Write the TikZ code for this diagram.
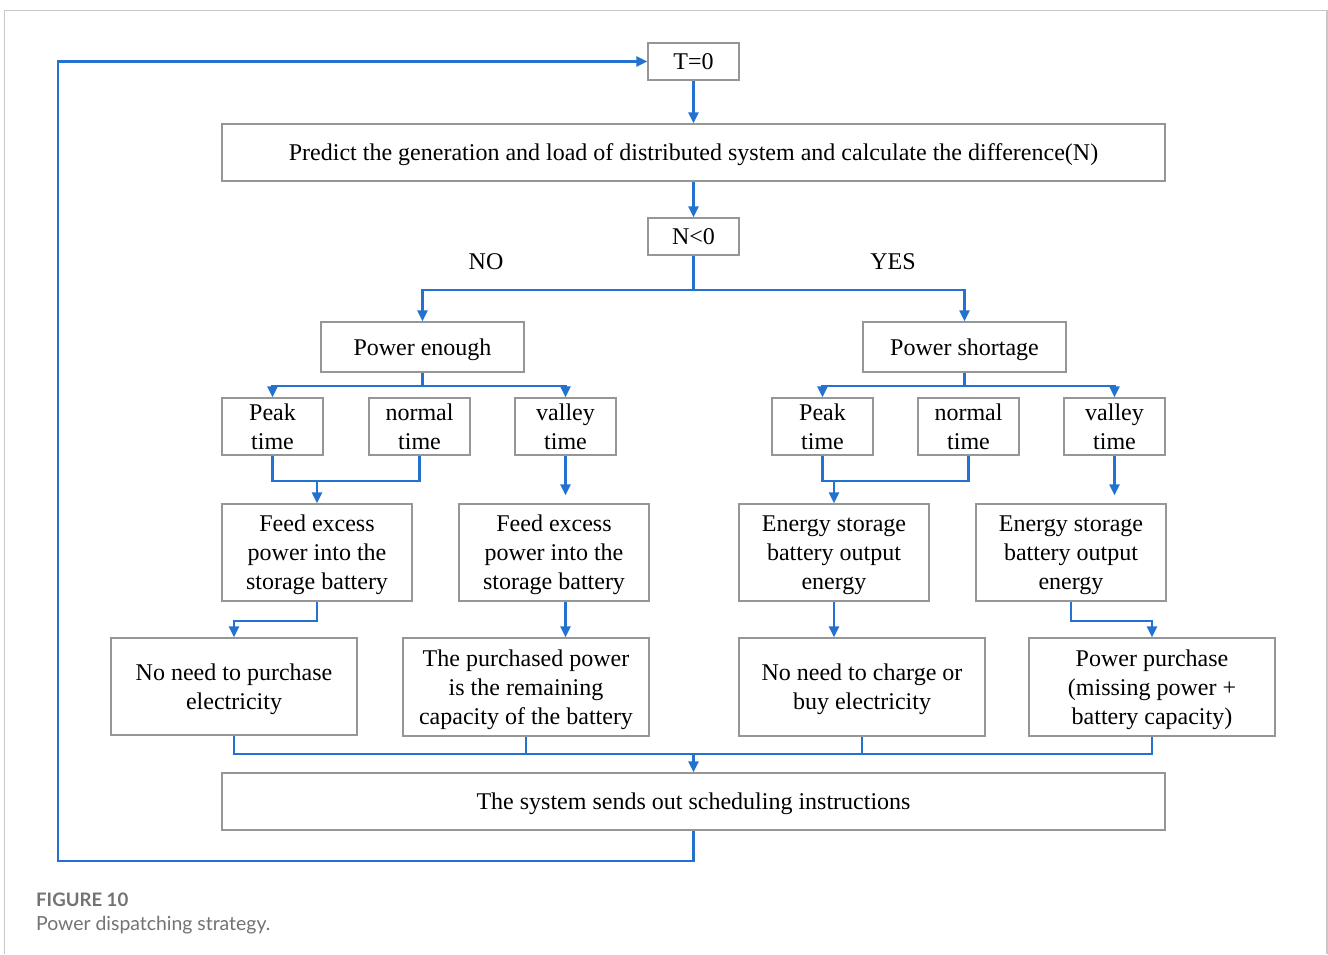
\documentclass[tikz,border=0pt]{standalone}
\usepackage{fontspec}
\setmainfont{Liberation Serif}
\newfontfamily\capfont{Lato}
\usetikzlibrary{arrows.meta}
\definecolor{flowblue}{RGB}{36,114,208}
\definecolor{boxgray}{RGB}{150,150,150}
\definecolor{framegray}{RGB}{200,200,200}
\definecolor{captiongray}{RGB}{115,115,115}
\tikzset{
  box/.style={draw=boxgray, line width=1.3pt, inner sep=0pt, align=center,
    text depth=0pt, font=\fontsize{24}{29}\selectfont, text=black},
  lbl/.style={inner sep=0pt, font=\fontsize{24}{29}\selectfont},
  link/.style={draw=flowblue, line width=2.2pt},
  arr/.style={link, -{Triangle[length=11pt,width=10pt]}}
}
\begin{document}
\begin{tikzpicture}[x=1pt,y=-1pt]
\useasboundingbox (0,0) rectangle (1328,954);
\fill[white] (0,0) rectangle (1328,954);
% outer panel frame
\draw[framegray, line width=1.5pt] (4.5,954) -- (4.5,10.5) -- (1327,10.5) -- (1327,954);

% top of the loop
\node[box, minimum width=91pt, minimum height=37pt] (t0) at (693.5,61.5) {T=0};
\node[box, minimum width=943pt, minimum height=57pt] (pred) at (693.5,152.5)
  {Predict the generation and load of distributed system and calculate the difference(N)};
\node[box, minimum width=91pt, minimum height=37pt] (n0) at (693.5,236.5) {N<0};
\node[lbl] (no) at (486,262) {NO};
\node[lbl] (yes) at (893,262) {YES};

% second level
\node[box, minimum width=203pt, minimum height=50pt] (enough) at (422.5,347) {Power enough};
\node[box, minimum width=203pt, minimum height=50pt] (short) at (964.5,347) {Power shortage};

% time periods
\node[box, minimum width=101pt, minimum height=57pt] (pk1) at (272.5,426.5) {Peak\\time};
\node[box, minimum width=101pt, minimum height=57pt] (nm1) at (419.5,426.5) {normal\\time};
\node[box, minimum width=101pt, minimum height=57pt] (vl1) at (565.5,426.5) {valley\\time};
\node[box, minimum width=101pt, minimum height=57pt] (pk2) at (822.5,426.5) {Peak\\time};
\node[box, minimum width=101pt, minimum height=57pt] (nm2) at (968.5,426.5) {normal\\time};
\node[box, minimum width=101pt, minimum height=57pt] (vl2) at (1114.5,426.5) {valley\\time};

% storage actions
\node[box, minimum width=190pt, minimum height=97pt] (feed1) at (317,552.5) {Feed excess\\power into the\\storage battery};
\node[box, minimum width=190pt, minimum height=97pt] (feed2) at (554,552.5) {Feed excess\\power into the\\storage battery};
\node[box, minimum width=190pt, minimum height=97pt] (es1) at (834,552.5) {Energy storage\\battery output\\energy};
\node[box, minimum width=190pt, minimum height=97pt] (es2) at (1071,552.5) {Energy storage\\battery output\\energy};

% purchase decisions
\node[box, minimum width=246pt, minimum height=97pt] (nop) at (234,686.5) {No need to purchase\\electricity};
\node[box, minimum width=246pt, minimum height=98pt] (purch) at (526,687) {The purchased power\\is the remaining\\capacity of the battery};
\node[box, minimum width=246pt, minimum height=98pt] (nochg) at (862,687) {No need to charge or\\buy electricity};
\node[box, minimum width=246pt, minimum height=98pt] (pp) at (1152,687) {Power purchase\\(missing power +\\battery capacity)};

% final step
\node[box, minimum width=943pt, minimum height=57pt] (sys) at (693.5,801.5) {The system sends out scheduling instructions};

% connectors
\draw[arr] (t0.south) -- (pred.north);
\draw[arr] (pred.south) -- (n0.north);
\draw[link] (n0.south) -- ++(0,34) coordinate (nb);
\draw[arr] (nb) -| (enough.north);
\draw[arr] (nb) -| (short.north);

\draw[link] (enough.south) -- ++(0,13) coordinate (eb);
\draw[arr] (eb) -| (pk1.north);
\draw[arr] (eb) -| (vl1.north);
\draw[link] (short.south) -- ++(0,13) coordinate (sb);
\draw[arr] (sb) -| (pk2.north);
\draw[arr] (sb) -| (vl2.north);

\draw[link] (pk1.south) -- ++(0,25) -| (nm1.south);
\draw[arr] ([yshift=23pt]feed1.north) -- (feed1.north);
\draw[arr, shorten >=8pt] (vl1.south) -- (vl1.south |- feed1.north);
\draw[link] (pk2.south) -- ++(0,25) -| (nm2.south);
\draw[arr] ([yshift=23pt]es1.north) -- (es1.north);
\draw[arr, shorten >=8pt] (vl2.south) -- (vl2.south |- es2.north);

\draw[arr] (feed1.south) -- ++(0,19) -| (nop.north);
\draw[arr] (vl1.south |- feed2.south) -- (vl1.south |- purch.north);
\draw[arr] (es1.south) -- (es1.south |- nochg.north);
\draw[arr] (es2.south) -- ++(0,19) -| (pp.north);

\coordinate (bus) at (693.5,754);
\draw[link] (nop.south) |- (bus) -| (pp.south);
\draw[link] (purch.south) -- (purch.south |- bus);
\draw[link] (nochg.south) -- (nochg.south |- bus);
\draw[arr] (bus) -- (sys.north);

\coordinate (loopL) at (58,861);
\draw[arr] (sys.south) |- (loopL) |- (t0.west);

% caption
\node[anchor=west, inner sep=0pt, text=captiongray, font=\capfont\bfseries\fontsize{18.6}{22}\selectfont] (capnum) at (36,900) {FIGURE 10};
\node[anchor=west, inner sep=0pt, text=captiongray, font=\capfont\fontsize{19.4}{23}\selectfont] (captxt) at (36,925) {Power dispatching strategy.};
\end{tikzpicture}
\end{document}
